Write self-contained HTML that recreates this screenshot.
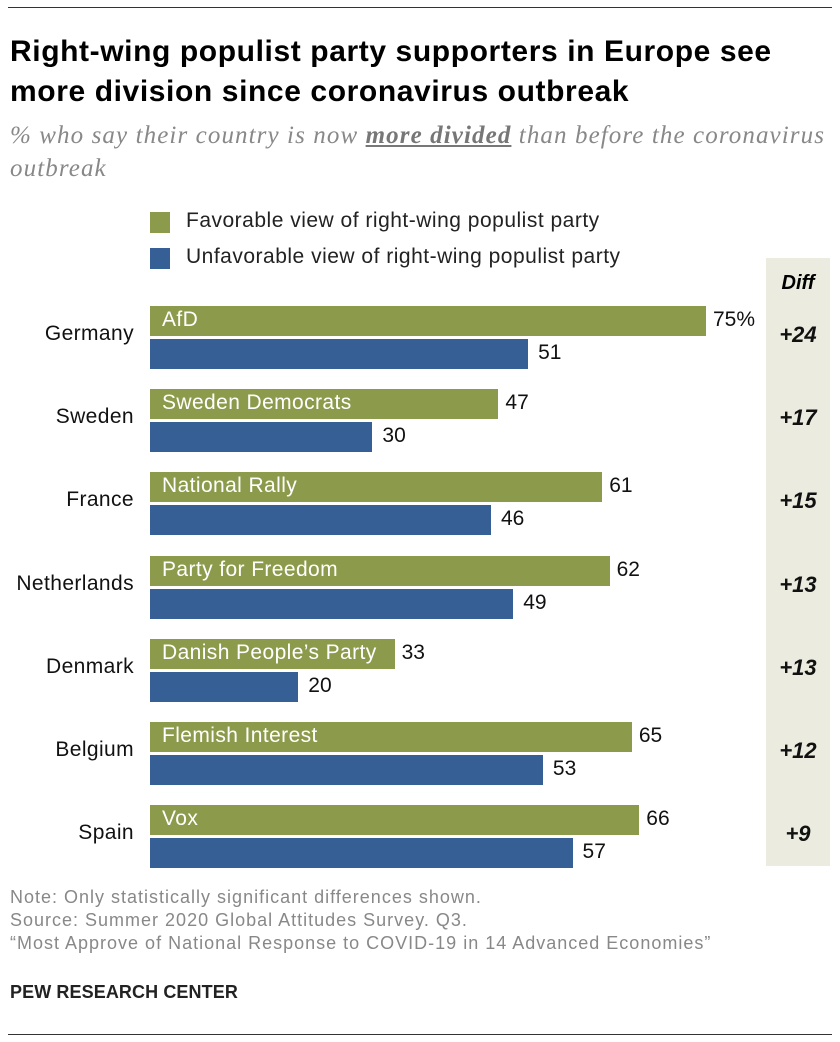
<!DOCTYPE html>
<html><head><meta charset="utf-8"><style>
body{margin:0;background:#fff;font-family:"Liberation Sans",sans-serif;}
#c{position:relative;width:840px;height:1042px;overflow:hidden}
.t{position:absolute;white-space:nowrap}
</style></head><body><div id="c">
<div class="t" style="left:8px;top:7px;width:824px;height:1px;background:#333"></div>
<div class="t" style="left:10px;top:32px;font-size:30px;letter-spacing:0.6px;font-weight:bold;line-height:40px;color:#000">Right-wing populist party supporters in Europe see<br>more division since coronavirus outbreak</div>
<div class="t" style="left:10px;top:119px;font-family:'Liberation Serif',serif;font-style:italic;font-size:25px;letter-spacing:1.1px;line-height:33px;color:#888">% who say their country is now <b style="text-decoration:underline;color:#777">more divided</b> than before the coronavirus<br>outbreak</div>
<div class="t" style="left:150px;top:212px;width:20px;height:21px;background:#8c9b4b"></div>
<div class="t" style="left:186px;top:209px;font-size:21px;letter-spacing:0.5px;color:#222">Favorable view of right-wing populist party</div>
<div class="t" style="left:150px;top:248px;width:20px;height:21px;background:#365f96"></div>
<div class="t" style="left:186px;top:245px;font-size:21px;letter-spacing:0.5px;color:#222">Unfavorable view of right-wing populist party</div>
<div class="t" style="left:766px;top:258px;width:64px;height:608px;background:#ebebdf"></div>
<div class="t" style="left:766px;top:272px;width:64px;text-align:center;font-size:20px;font-weight:bold;font-style:italic">Diff</div>
<div id="bars"></div>
<div class="t" style="left:10px;top:886px;font-size:18px;letter-spacing:1px;line-height:23px;color:#888">Note: Only statistically significant differences shown.<br>Source: Summer 2020 Global Attitudes Survey. Q3.<br>“Most Approve of National Response to COVID-19 in 14 Advanced Economies”</div>
<div class="t" style="left:10px;top:982px;font-size:18px;letter-spacing:0.1px;font-weight:bold;color:#222">PEW RESEARCH CENTER</div>
<div class="t" style="left:8px;top:1034px;width:824px;height:1px;background:#333"></div>
</div>
<script>
const countries=["Germany","Sweden","France","Netherlands","Denmark","Belgium","Spain"];
const parties=["AfD","Sweden Democrats","National Rally","Party for Freedom","Danish People’s Party","Flemish Interest","Vox"];
const favorable=[75,47,61,62,33,65,66];
const unfavorable=[51,30,46,49,20,53,57];
const diffs=["+24","+17","+15","+13","+13","+12","+9"];
const root=document.getElementById('c');
const x=v=>v*556/75;
function mk(style,text){const d=document.createElement('div');d.className='t';d.style.cssText=style;if(text!=null)d.textContent=text;root.appendChild(d);return d;}
countries.forEach((c,i)=>{
 const y0=306+i*83.2;
 let e=mk(`right:${840-134}px;top:${y0+16}px;font-size:21px;letter-spacing:0.4px;color:#111`,c);
 
 
 e=mk(`left:150px;top:${y0}px;width:${x(favorable[i])}px;height:30px;background:#8c9b4b`);
 
 
 e=mk(`left:162px;top:${y0+2}px;font-size:21px;letter-spacing:0.4px;color:#fff`,parties[i]);
 
 
 e=mk(`left:${150+x(favorable[i])+7}px;top:${y0+2}px;font-size:21px;color:#111`,favorable[i]+(i==0?'%':''));
 
 
 e=mk(`left:150px;top:${y0+33}px;width:${x(unfavorable[i])}px;height:30px;background:#365f96`);
 
 
 e=mk(`left:${150+x(unfavorable[i])+10}px;top:${y0+35}px;font-size:21px;color:#111`,unfavorable[i]);
 
 
 e=mk(`left:766px;width:64px;text-align:center;top:${y0+16}px;font-size:22px;font-weight:bold;font-style:italic;color:#111`,diffs[i]);
 
 
});
</script></body></html>
